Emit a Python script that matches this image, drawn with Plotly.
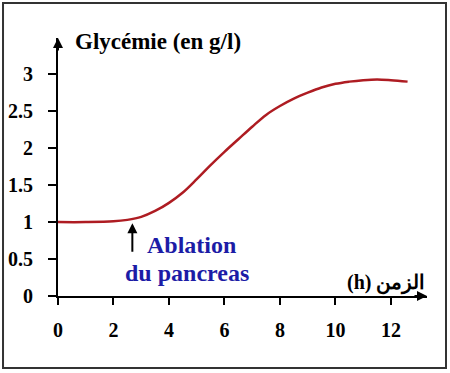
import plotly.graph_objects as go

# Data
time_h = [0, 1, 2, 2.5, 3, 3.5, 4, 4.5, 5, 5.5, 6, 6.5, 7, 7.5, 8, 8.5, 9, 9.5, 10, 10.5, 11, 11.5, 12, 12.6]
glycemie = [1.0, 1.0, 1.01, 1.03, 1.07, 1.15, 1.26, 1.40, 1.58, 1.77, 1.95, 2.12, 2.29, 2.45, 2.57, 2.67, 2.75, 2.82, 2.87, 2.90, 2.92, 2.93, 2.92, 2.90]
x_ticks = [0, 2, 4, 6, 8, 10, 12]
y_ticks = [0, 0.5, 1, 1.5, 2, 2.5, 3]
y_ticktext = ["0", "0.5", "1", "1.5", "2", "2.5", "3"]
ablation_time = 2.68

SERIF = "Liberation Serif, Times New Roman, serif"

fig = go.Figure()
fig.add_trace(go.Scatter(
    x=time_h, y=glycemie, mode="lines",
    line=dict(color="#ae1c22", width=2.5, shape="spline", smoothing=1.0),
    hoverinfo="skip", showlegend=False,
))

axis_common = dict(
    showgrid=False, zeroline=False, showline=True, linecolor="black", linewidth=2,
    ticks="outside", tickcolor="black", tickwidth=2,
    tickfont=dict(family=SERIF, size=20, color="black", weight="bold"),
)
fig.update_xaxes(range=[0, 13.3], tickvals=x_ticks, ticklen=7, ticklabelstandoff=8, **axis_common)
fig.update_yaxes(range=[0, 3.49], tickvals=y_ticks, ticktext=y_ticktext, ticklen=8, ticklabelstandoff=11, **axis_common)

annotations = [
    # axis arrowheads
    dict(x=0, y=3.49, xref="x", yref="y", ax=0, ay=14, showarrow=True, arrowhead=2,
         arrowsize=1, arrowwidth=2, arrowcolor="black", text=""),
    dict(x=13.3, y=0, xref="x", yref="y", ax=-14, ay=0, showarrow=True, arrowhead=2,
         arrowsize=1, arrowwidth=2, arrowcolor="black", text=""),
    # ablation arrow
    dict(x=ablation_time, y=0.985, xref="x", yref="y", ax=0, ay=30, showarrow=True, arrowhead=2,
         arrowsize=1, arrowwidth=2, arrowcolor="black", text=""),
    dict(x=0.04, y=0.986, xref="paper", yref="paper", xanchor="left", yanchor="middle",
         text="Glycémie (en g/l)", showarrow=False,
         font=dict(family=SERIF, size=23, color="black", weight="bold")),
    dict(x=4.8, y=0.69, xref="x", yref="y", xanchor="center", yanchor="middle",
         text="Ablation", showarrow=False,
         font=dict(family=SERIF, size=24, color="#1c1ca6", weight="bold")),
    dict(x=4.65, y=0.31, xref="x", yref="y", xanchor="center", yanchor="middle",
         text="du pancreas", showarrow=False,
         font=dict(family=SERIF, size=24, color="#1c1ca6", weight="bold")),
    dict(x=1.0, y=0.05, xref="paper", yref="paper", xanchor="right", yanchor="middle",
         text="(h) الزمن", showarrow=False,
         font=dict(family=SERIF, size=20, color="black", weight="bold")),
]

fig.update_layout(
    width=450, height=373,
    margin=dict(l=58, r=23, t=38, b=77, autoexpand=False),
    paper_bgcolor="white", plot_bgcolor="white",
    font=dict(family=SERIF),
    annotations=annotations,
    shapes=[dict(type="rect", xref="paper", yref="paper",
                 x0=-0.149, x1=1.0515, y0=-0.279, y1=1.1357,
                 line=dict(color="#333333", width=2), fillcolor="rgba(0,0,0,0)", layer="below")],
)

fig.write_html("out.html", config={"displayModeBar": False},
               post_script="document.body.style.margin='0';document.body.style.padding='0';")
